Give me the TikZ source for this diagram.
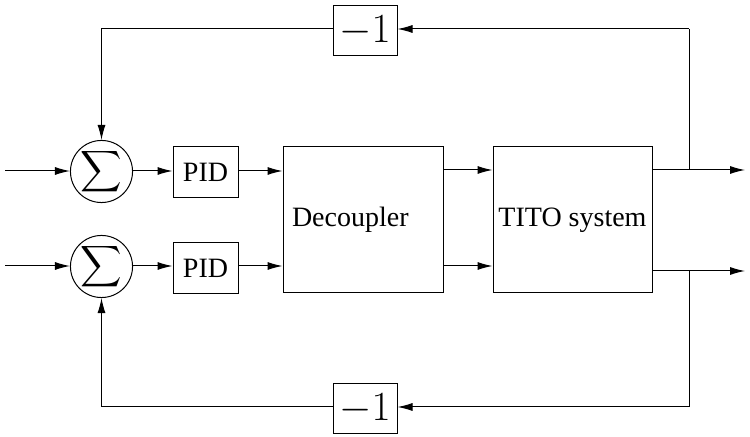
\documentclass[tikz,border=0pt]{standalone}
\usepackage{fontspec}
\setmainfont{Liberation Serif}
\usepackage{amsmath}
\usetikzlibrary{arrows.meta,positioning}
\tikzset{
  block/.style = {
    rectangle,
    draw=black,
    line width=0.5pt,
    inner sep=0pt,
    font=\fontsize{14}{16}\selectfont
  },
  sumnode/.style = {
    circle,
    draw=black,
    line width=0.5pt,
    minimum size=29.5pt,
    inner sep=0pt
  },
  gain/.style = {
    rectangle,
    draw=black,
    line width=0.5pt,
    minimum width=32pt,
    minimum height=25pt,
    inner sep=0pt,
    font=\fontsize{21}{23}\selectfont
  },
  flow/.style = {
    line width=0.5pt,
    -{Latex[length=7.5pt,width=4pt]}
  },
  wire/.style = {
    line width=0.5pt
  }
}
\begin{document}
\begin{tikzpicture}[x=0.5pt,y=-0.5pt]
\useasboundingbox (0,0) rectangle (750,437);

% Summierer
\node[sumnode] (sum1) at (101.5,171.5) {\fontsize{14.5}{16}\selectfont$\displaystyle\sum$};
\node[sumnode] (sum2) at (101.5,266.5) {\fontsize{14.5}{16}\selectfont$\displaystyle\sum$};

% Regler
\node[block, minimum width=32.5pt, minimum height=25.5pt] (pid1) at (205.5,172.5) {PID};
\node[block, minimum width=32.5pt, minimum height=25.5pt] (pid2) at (205.5,268) {PID};

% Entkoppler und Strecke
\node[block, minimum width=80pt, minimum height=73pt, text width=71pt, align=left] (dec) at (363,220) {Decoupler};
\node[block, minimum width=79.5pt, minimum height=73pt] (tito) at (572.5,220) {TITO system};

% Rueckfuehrung
\node[gain] (neg1) at (365,31) {$-1$};
\node[gain] (neg2) at (365,409) {$-1$};

% Ein- und Ausgaenge
\coordinate (in1) at (5,171);
\coordinate (in2) at (5,266);
\coordinate (out1) at (745,170);
\coordinate (out2) at (745,271);
\coordinate (fb1) at (689,170);
\coordinate (fb2) at (689,271);
\coordinate (top1) at (689,29);
\coordinate (bot2) at (689,407);

% VERBINDUNGEN - Vorwaertszweig
\draw[flow] (in1) -- (sum1.west |- in1);
\draw[flow] (in2) -- (sum2.west |- in2);
\draw[flow] (sum1.east |- in1) -- (pid1.west |- in1);
\draw[flow] (sum2.east |- in2) -- (pid2.west |- in2);
\draw[flow] (pid1.east |- in1) -- (dec.west |- in1);
\draw[flow] (pid2.east |- in2) -- (dec.west |- in2);
\draw[flow] (dec.east |- fb1) -- (tito.west |- fb1);
\draw[flow] (dec.east |- in2) -- (tito.west |- in2);
\draw[flow] (tito.east |- out1) -- (out1);
\draw[flow] (tito.east |- out2) -- (out2);

% VERBINDUNGEN - Rueckfuehrung
\draw[wire] (fb1) -- (top1);
\draw[flow] (top1) -- (neg1.east |- top1);
\draw[flow] (neg1.west |- top1) -| (sum1);
\draw[wire] (fb2) -- (bot2);
\draw[flow] (bot2) -- (neg2.east |- bot2);
\draw[flow] (neg2.west |- bot2) -| (sum2);

\end{tikzpicture}
\end{document}
